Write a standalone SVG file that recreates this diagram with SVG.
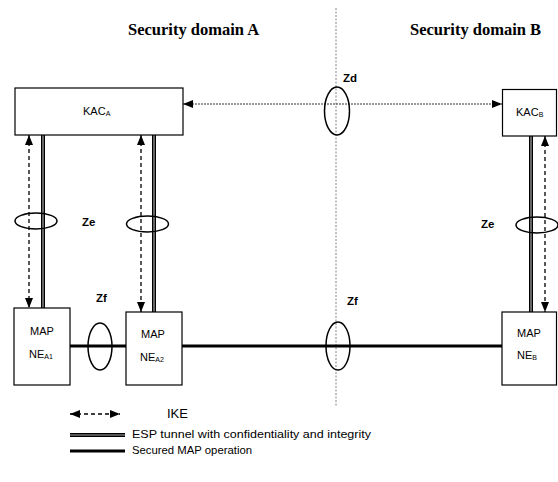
<svg xmlns="http://www.w3.org/2000/svg" width="558" height="482" viewBox="0 0 558 482">
<defs>
<marker id="ah" viewBox="0 0 10 8" refX="10" refY="4" markerWidth="10" markerHeight="8" markerUnits="userSpaceOnUse" orient="auto-start-reverse">
<path d="M0,0 L10,4 L0,8 z" fill="#000"/>
</marker>
<style>
.box{fill:#fff;stroke:#000;stroke-width:1.2}
.title{font-family:"Liberation Serif",serif;font-weight:bold;font-size:16.5px;fill:#000}
.nt{font-family:"Liberation Sans",Arial,sans-serif;font-size:11px;fill:#000}
.sub{font-size:7px}
.zl{font-family:"Liberation Sans",Arial,sans-serif;font-weight:bold;font-size:11.5px;fill:#000}
.lg{font-family:"Liberation Sans",Arial,sans-serif;font-size:11px;fill:#000}
.ike{fill:none;stroke:#000;stroke-width:1.3;stroke-dasharray:4 3;marker-start:url(#ah);marker-end:url(#ah)}
.zd{fill:none;stroke:#000;stroke-width:0.8;stroke-dasharray:2 1;marker-start:url(#ah);marker-end:url(#ah)}
.espo{fill:none;stroke:#000;stroke-width:4}
.espi{fill:none;stroke:#aaa;stroke-width:1.2}
.map{fill:none;stroke:#000;stroke-width:3}
.div{fill:none;stroke:#666;stroke-width:0.8;stroke-dasharray:2 1.5}
.ell{fill:none;stroke:#000;stroke-width:1.5}
</style>
</defs>
<rect width="558" height="482" fill="#fff"/>
<text class="title" x="128" y="35">Security domain A</text>
<text class="title" x="410" y="35">Security domain B</text>
<line class="div" x1="336" y1="8" x2="336" y2="407"/>
<g id="connectors">
<line class="zd" x1="183" y1="104" x2="502" y2="104"/>
<line class="ike" x1="29" y1="135" x2="29" y2="308"/>
<line class="espo" x1="43" y1="135" x2="43" y2="308"/>
<line class="espi" x1="43" y1="135" x2="43" y2="308"/>
<line class="ike" x1="141" y1="135" x2="141" y2="312"/>
<line class="espo" x1="154" y1="135" x2="154" y2="312"/>
<line class="espi" x1="154" y1="135" x2="154" y2="312"/>
<line class="ike" x1="545" y1="136" x2="545" y2="312"/>
<line class="espo" x1="531" y1="136" x2="531" y2="312"/>
<line class="espi" x1="531" y1="136" x2="531" y2="312"/>
<line class="map" x1="70" y1="346" x2="126" y2="346"/>
<line class="map" x1="182" y1="346" x2="502" y2="346"/>
<ellipse class="ell" cx="337" cy="111" rx="12.5" ry="24"/>
<ellipse class="ell" cx="36" cy="221" rx="21" ry="8"/>
<ellipse class="ell" cx="147.5" cy="224" rx="21" ry="8"/>
<ellipse class="ell" cx="537" cy="225" rx="21" ry="8"/>
<ellipse class="ell" cx="100" cy="346.5" rx="12" ry="23.5"/>
<ellipse class="ell" cx="338" cy="346" rx="12" ry="24"/>
<text class="zl" x="343" y="82">Zd</text>
<text class="zl" x="82" y="226">Ze</text>
<text class="zl" x="481" y="228">Ze</text>
<text class="zl" x="96" y="302">Zf</text>
<text class="zl" x="347" y="305">Zf</text>
</g>
<g id="kac-a">
<rect class="box" x="15" y="88" width="168" height="47"/>
<text class="nt" x="83" y="115">KAC<tspan class="sub" dy="1">A</tspan></text>
</g>
<g id="kac-b">
<rect class="box" x="502.5" y="89.5" width="54" height="46.5"/>
<text class="nt" x="516" y="116">KAC<tspan class="sub" dy="1">B</tspan></text>
</g>
<g id="ne-a1">
<rect class="box" x="14" y="308" width="56" height="77"/>
<text class="nt" x="30" y="335">MAP</text>
<text class="nt" x="29" y="358">NE<tspan class="sub" dy="1">A1</tspan></text>
</g>
<g id="ne-a2">
<rect class="box" x="126" y="312" width="56" height="73"/>
<text class="nt" x="141" y="338">MAP</text>
<text class="nt" x="140" y="361">NE<tspan class="sub" dy="1">A2</tspan></text>
</g>
<g id="ne-b">
<rect class="box" x="502" y="312" width="54.5" height="73"/>
<text class="nt" x="517" y="337">MAP</text>
<text class="nt" x="517" y="359">NE<tspan class="sub" dy="1">B</tspan></text>
</g>
<g id="legend">
<line class="ike" x1="70" y1="414" x2="120" y2="414"/>
<text class="lg" x="167" y="418" style="font-size:13px">IKE</text>
<line class="espo" x1="70" y1="435" x2="125" y2="435"/>
<line class="espi" x1="70" y1="435" x2="125" y2="435"/>
<text class="lg" x="132" y="438" textLength="239" lengthAdjust="spacingAndGlyphs">ESP tunnel with confidentiality and integrity</text>
<line class="map" x1="70" y1="451" x2="125" y2="451"/>
<text class="lg" x="132" y="454" textLength="120" lengthAdjust="spacingAndGlyphs">Secured MAP operation</text>
</g>
</svg>
